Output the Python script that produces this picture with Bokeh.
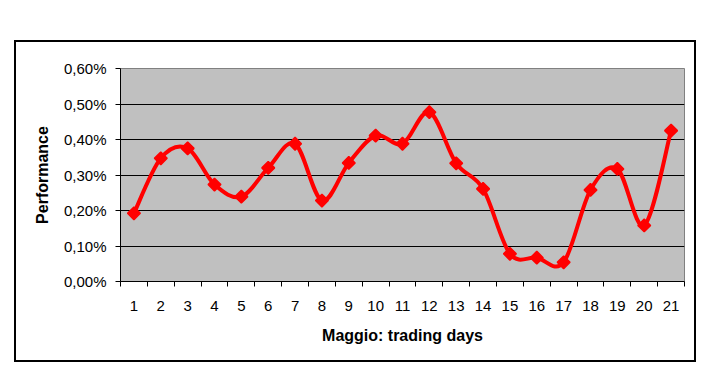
from bokeh.plotting import figure
from bokeh.models import FixedTicker, ColumnDataSource, InlineStyleSheet
from bokeh.embed import file_html
from bokeh.resources import INLINE

# ---- data (performance in %) ----
days = list(range(1, 22))
performance = [0.192, 0.347, 0.375, 0.273, 0.239, 0.320, 0.388, 0.228, 0.334, 0.411,
               0.388, 0.477, 0.333, 0.261, 0.078, 0.067, 0.054, 0.258, 0.317, 0.158, 0.425]
y_ticks = [0.0, 0.1, 0.2, 0.3, 0.4, 0.5, 0.6]
y_tick_labels = ["0,00%", "0,10%", "0,20%", "0,30%", "0,40%", "0,50%", "0,60%"]
x_title = "Maggio: trading days"
y_title = "Performance"

FONT = "Liberation Sans"

p = figure(width=720, height=381, output_backend="svg", toolbar_location=None,
           x_range=(0.5, 21.5), y_range=(0, 0.6),
           min_border_left=120, min_border_right=36, min_border_top=68, min_border_bottom=100)
p.background_fill_color = "#C0C0C0"
p.border_fill_color = "white"
p.outline_line_color = "#808080"
p.outline_line_width = 1

# smoothed line (Catmull-Rom style bezier through the points, like Excel smoothing)
n = len(days)
x0, y0, x1, y1, cx0, cy0, cx1, cy1 = [], [], [], [], [], [], [], []
for i in range(n - 1):
    xp, yp = (days[i - 1], performance[i - 1]) if i > 0 else (days[i], performance[i])
    xa, ya = days[i], performance[i]
    xb, yb = days[i + 1], performance[i + 1]
    xn, yn = (days[i + 2], performance[i + 2]) if i + 2 < n else (days[i + 1], performance[i + 1])
    x0.append(xa); y0.append(ya); x1.append(xb); y1.append(yb)
    cx0.append(xa + (xb - xp) / 6); cy0.append(ya + (yb - yp) / 6)
    cx1.append(xb - (xn - xa) / 6); cy1.append(yb - (yn - ya) / 6)
bsrc = ColumnDataSource(dict(x0=x0, y0=y0, x1=x1, y1=y1, cx0=cx0, cy0=cy0, cx1=cx1, cy1=cy1))
p.bezier(x0="x0", y0="y0", x1="x1", y1="y1", cx0="cx0", cy0="cy0", cx1="cx1", cy1="cy1",
         source=bsrc, line_color="#FF0000", line_width=4, line_cap="round")

p.scatter(days, performance, marker="square", angle=0.785398, size=9,
          fill_color="#FF0000", line_color="#FF0000", line_width=1.5)

# grid
p.xgrid.visible = False
p.ygrid.ticker = FixedTicker(ticks=y_ticks)
p.ygrid.grid_line_color = "black"
p.ygrid.grid_line_width = 1.2

# x axis
xa = p.xaxis[0]
xa.ticker = FixedTicker(ticks=days, minor_ticks=[d - 0.5 for d in days] + [days[-1] + 0.5])
xa.major_tick_out = 0
xa.major_tick_in = 0
xa.minor_tick_in = 0
xa.minor_tick_out = 5
xa.minor_tick_line_color = "black"
xa.axis_line_color = "black"
xa.major_label_standoff = 14
xa.major_label_text_font = FONT
xa.major_label_text_font_size = "15px"
xa.major_label_text_color = "black"
xa.axis_label = x_title
xa.axis_label_text_font = FONT
xa.axis_label_text_font_style = "bold"
xa.axis_label_text_font_size = "16px"
xa.axis_label_text_color = "black"
xa.axis_label_standoff = 13

# y axis
ya_ = p.yaxis[0]
ya_.ticker = FixedTicker(ticks=y_ticks)
ya_.major_label_overrides = {t: l for t, l in zip(y_ticks, y_tick_labels)}
ya_.major_tick_out = 5
ya_.major_tick_in = 0
ya_.minor_tick_out = 0
ya_.minor_tick_in = 0
ya_.axis_line_color = "black"
ya_.major_tick_line_color = "black"
ya_.major_label_standoff = 9
ya_.major_label_text_font = FONT
ya_.major_label_text_font_size = "15px"
ya_.major_label_text_color = "black"
ya_.axis_label = y_title
ya_.axis_label_text_font = FONT
ya_.axis_label_text_font_style = "bold"
ya_.axis_label_text_font_size = "16px"
ya_.axis_label_text_color = "black"
ya_.axis_label_standoff = 10

# outer chart border (frame around the whole chart, drawn via the figure's stylesheet)
p.stylesheets = [InlineStyleSheet(css=":host{position:relative;} :host::after{content:'';position:absolute;left:14px;top:40px;width:682px;height:322px;border:2px solid black;box-sizing:border-box;pointer-events:none;}")]

open("out.html", "w").write(file_html(p, INLINE))
